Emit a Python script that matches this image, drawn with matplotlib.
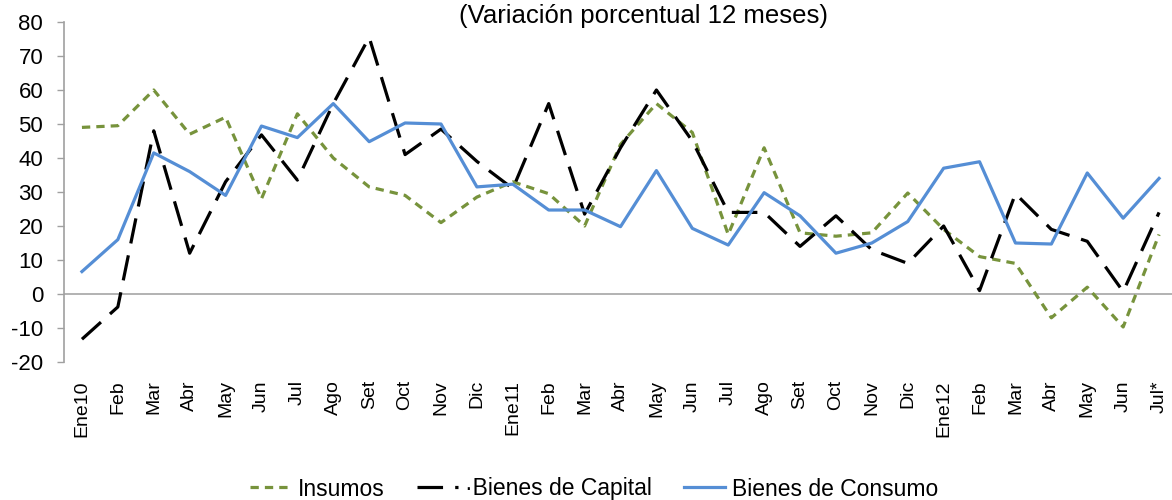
import matplotlib
matplotlib.use("Agg")
import matplotlib.pyplot as plt

plt.rcParams['font.family'] = ['Liberation Sans', 'DejaVu Sans']
plt.rcParams['axes.unicode_minus'] = False

categories = ["Ene10", "Feb", "Mar", "Abr", "May", "Jun", "Jul", "Ago", "Set", "Oct", "Nov", "Dic",
              "Ene11", "Feb", "Mar", "Abr", "May", "Jun", "Jul", "Ago", "Set", "Oct", "Nov", "Dic",
              "Ene12", "Feb", "Mar", "Abr", "May", "Jun", "Jul*"]

insumos = [49, 49.5, 60, 47, 52, 28, 53, 40, 31.5, 29, 21, 28.5,
           33, 29.5, 20, 44, 56, 47.5, 17.5, 43, 18, 17, 18, 29.7,
           19, 11, 9, -7, 2, -9.7, 17.5]
capital = [-13.3, -3.8, 48, 12, 33, 46.8, 33.5, 56, 75.5, 41, 48.5, 39,
           31, 56, 23.5, 43, 60, 45, 24, 24, 14, 23, 13, 9,
           20, 1, 29.5, 19, 15.5, 0.7, 24]
consumo = [6.6, 16, 41.5, 36, 29, 49.4, 46, 56, 44.8, 50.3, 50, 31.5,
           32.3, 24.7, 24.7, 19.8, 36.3, 19.3, 14.4, 29.8, 23, 12, 15, 21.3,
           37, 38.9, 15, 14.7, 35.6, 22.3, 34]

fig = plt.figure(figsize=(11.72, 5.0), dpi=100)
ax = fig.add_axes([0.0546, 0.276, 0.9454, 0.68])

x = list(range(len(categories)))
lw = 2.3
l1, = ax.plot(x, insumos, color="#77933C", lw=lw, dashes=(2.6, 1.9), label="Insumos")
l2, = ax.plot(x, capital, color="#000000", lw=lw, dashes=(8, 3.8), label="\u00b7Bienes de Capital")
l3, = ax.plot(x, consumo, color="#558ED5", lw=lw, label="Bienes de Consumo")

ax.set_xlim(-0.5, 30.36)
ax.set_ylim(-20, 80)
ax.set_yticks(range(-20, 81, 10))
ax.tick_params(axis='y', labelsize=16, length=5, color="#A0A0A0", width=1, pad=10)

ax.axhline(0, color="#A6A6A6", lw=1.2, zorder=0)
for s in ["top", "right", "bottom"]:
    ax.spines[s].set_visible(False)
ax.spines["left"].set_color("#A0A0A0")
ax.spines["left"].set_linewidth(1.2)

ax.set_xticks(x)
ax.set_xticklabels([])
ax.tick_params(axis='x', length=0)
for xi, lab in zip(x, categories):
    ax.text(xi, -25.3, lab, rotation=90, ha="center", va="top", fontsize=14,
            transform=ax.transData, clip_on=False)

fig.text(0.549, 0.968, "(Variación porcentual 12 meses)", ha="center", va="center", fontsize=18.5)

leg = fig.legend(handles=[l1, l2, l3], loc="center", bbox_to_anchor=(0.507, 0.022), ncol=3,
                 frameon=False, fontsize=16.5, handlelength=1.8, columnspacing=1.4,
                 handletextpad=0.3)

fig.savefig("out.png", dpi=100)
